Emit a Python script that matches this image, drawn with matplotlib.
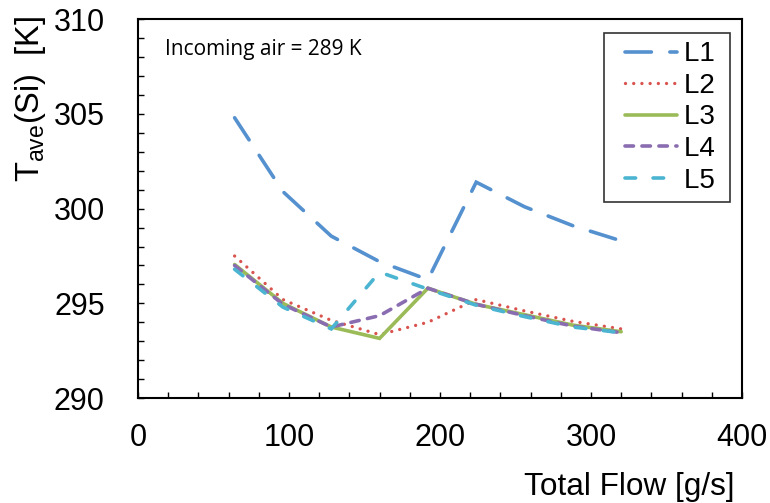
import matplotlib
matplotlib.use("Agg")
import matplotlib.pyplot as plt
from matplotlib.legend_handler import HandlerLine2D

plt.rcParams['font.family'] = ['Liberation Sans', 'DejaVu Sans']
plt.rcParams['mathtext.fontset'] = 'custom'
plt.rcParams['mathtext.rm'] = 'Liberation Sans'
plt.rcParams['lines.scale_dashes'] = False

# data
flow = [64, 96, 128, 160, 192, 224, 256, 288, 320]
L1 = [304.8, 300.9, 298.55, 297.2, 296.25, 301.4, 300.1, 299.1, 298.3]
L2 = [297.5, 295.2, 294.1, 293.35, 294.0, 295.2, 294.6, 294.05, 293.65]
L3 = [297.05, 295.0, 293.75, 293.15, 295.8, 294.95, 294.4, 293.85, 293.5]
L4 = [297.0, 294.95, 293.75, 294.35, 295.8, 294.95, 294.35, 293.8, 293.45]
L5 = [296.8, 294.8, 293.65, 296.65, 295.75, 294.9, 294.3, 293.75, 293.45]

names = ['L1', 'L2', 'L3', 'L4', 'L5']
colors = ['#5591CF', '#D9534F', '#9BBB59', '#8A6DB0', '#4BB4D0']
dashes = [(19, 13.3), (0.01, 5.9), None, (6.1, 6.1), (7.6, 12.6)]

fig = plt.figure(figsize=(7.7, 5.03), dpi=100)
ax = fig.add_axes([0.1792, 0.2087, 0.7844, 0.7529])

lw = 2.6
for ys, name, c, d in zip([L1, L2, L3, L4, L5], names, colors, dashes):
    line, = ax.plot(flow, ys, color=c, lw=lw if name != 'L2' else 2.4,
                    label=name + ' ', solid_capstyle='round', dash_capstyle='round',
                    solid_joinstyle='miter', dash_joinstyle='miter')
    if d is not None:
        line.set_dashes(d)

ax.set_xlim(0, 400)
ax.set_ylim(290, 310)
ax.set_xticks([0, 100, 200, 300, 400])
ax.set_yticks([290, 295, 300, 305, 310])
ax.set_xticks(range(0, 401, 20), minor=True)
ax.set_yticks(range(290, 311, 1), minor=True)
ax.tick_params(which='both', direction='in', length=4.5, width=1.0,
               top=False, right=False)
ax.tick_params(axis='x', which='major', labelsize=22, pad=18)
ax.tick_params(axis='y', which='major', labelsize=22, pad=24)
for s in ax.spines.values():
    s.set_linewidth(1.5)

ax.set_xlabel('Total Flow [g/s]', fontsize=22.7, ha='right')
ax.xaxis.set_label_coords(0.988, -0.235)
ax.xaxis.label.set_va('center')
ax.set_ylabel(r'T$_{\mathregular{ave}}$(Si)  [K]', fontsize=23.5, ha='right')
ax.yaxis.set_label_coords(-0.178, 1.01)
ax.yaxis.label.set_va('center')

ax.text(0.045, 0.919, 'Incoming air = 289 K', transform=ax.transAxes,
        fontsize=15, family='Open Sans', va='center', ha='left')

leg = ax.legend(loc='upper right', bbox_to_anchor=(0.981, 0.964), fontsize=20,
                handlelength=2.36, handletextpad=0.22, labelspacing=0.2,
                borderpad=0.3, borderaxespad=0, fancybox=False, frameon=True,
                handler_map={matplotlib.lines.Line2D: HandlerLine2D(xpad=0.46)})
leg.get_frame().set_edgecolor('black')
leg.get_frame().set_linewidth(1.2)

fig.savefig('out.png', dpi=100)
